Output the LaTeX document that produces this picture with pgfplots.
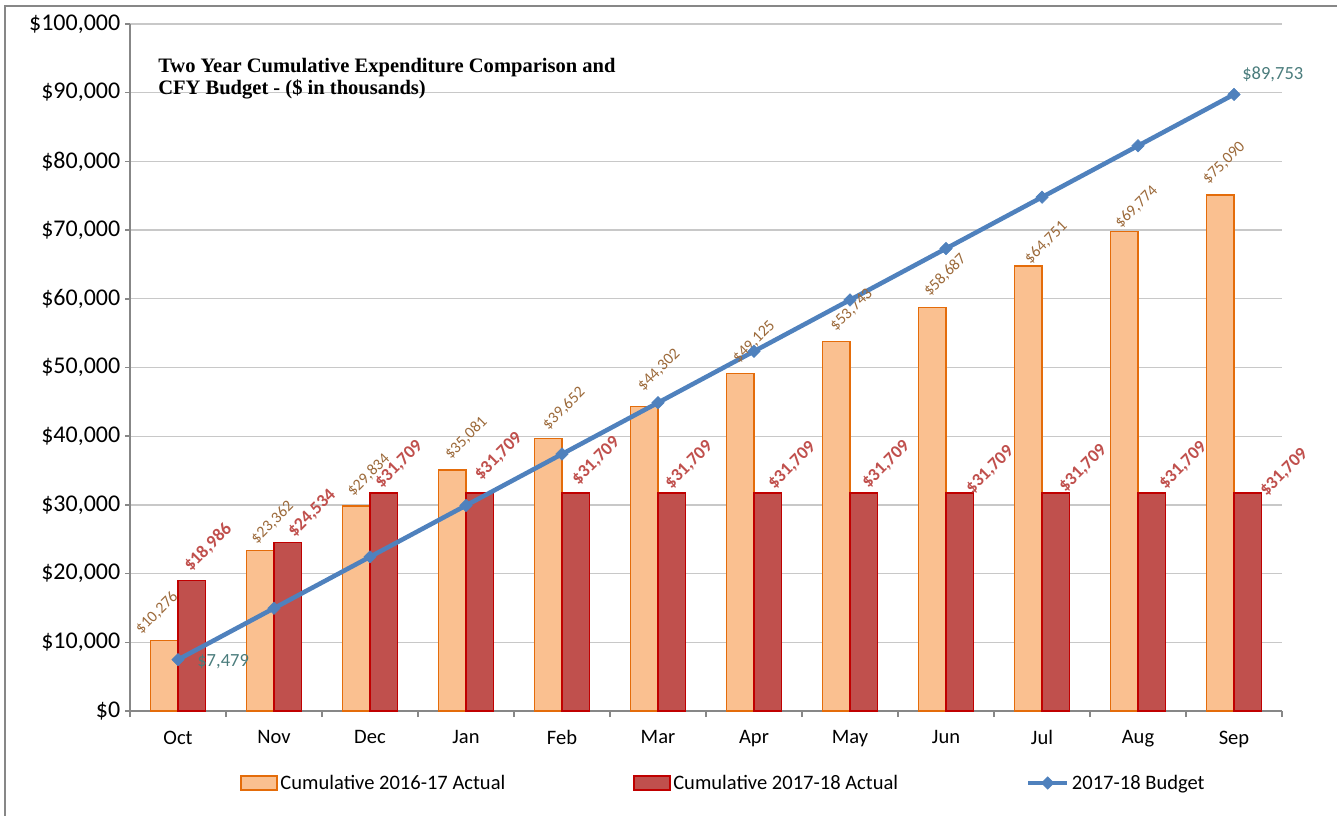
\documentclass[border=0pt]{standalone}
\usepackage{pgfplots}
\pgfplotsset{compat=1.18}
\usepackage{pgfplotstable}
\usepackage{fontspec}
\setmainfont{Carlito}
\newfontfamily\titlefont{Liberation Serif}

\definecolor{orangefill}{HTML}{FAC090}
\definecolor{orangeedge}{HTML}{E46C0A}
\definecolor{redfill}{HTML}{C0504D}
\definecolor{rededge}{HTML}{C00000}
\definecolor{budgetc}{HTML}{4F81BD}
\definecolor{olab}{HTML}{9C6A3B}
\definecolor{rlab}{HTML}{C0504D}
\definecolor{blab}{HTML}{4A7C7C}
\definecolor{gridc}{HTML}{C8C8C8}
\definecolor{axisc}{HTML}{878787}

\pgfplotsset{
  barlegend/.style={legend image code/.code={\draw[##1] (0pt,-5.25pt) rectangle (27pt,5.25pt);}},
  linelegend/.style={legend image code/.code={\draw[mark repeat=2,mark phase=2,##1] plot coordinates {(0pt,0pt) (14.5pt,0pt) (29pt,0pt)};}},
}

\pgfplotstableread{
x y dx dy lab
0 10276 -7.25 27.4 10,276
1 23362 12.25 28 23,362
2 29834 12.25 31 29,834
3 35081 13.75 32 35,081
4 39652 15.75 30.1 39,652
5 44302 14.75 36.6 44,302
6 49125 13.75 31.5 49,125
7 53743 15.25 31.8 53,743
8 58687 12.75 32.8 58,687
9 64751 17.75 23.7 64,751
10 69774 12.25 24.7 69,774
11 75090 3.75 32.1 75,090
}\prevyear

\pgfplotstableread{
x y dx dy lab
0 18986 16.25 33.1 18,986
1 24534 24.25 29 24,534
2 31709 15.25 28.7 31,709
3 31709 18.75 36.7 31,709
4 31709 20.25 32.2 31,709
5 31709 17.25 28.2 31,709
6 31709 24.25 27.7 31,709
7 31709 22.25 28.7 31,709
8 31709 30.25 23.2 31,709
9 31709 27.25 24.7 31,709
10 31709 31.25 27.7 31,709
11 31709 36.25 20.7 31,709
}\curyear

\pgfplotstableread{
x y
0 7479
1 14959
2 22438
3 29918
4 37397
5 44877
6 52356
7 59835
8 67315
9 74794
10 82274
11 89753
}\budget

\begin{document}
\begin{tikzpicture}
\useasboundingbox (0,0) rectangle (1002.75pt,611.25pt);
\draw[axisc, line width=1.5pt] (3.75pt,-5pt) -- (3.75pt,606.75pt) -- (1010pt,606.75pt);
\begin{axis}[
  at={(97.5pt,78pt)}, anchor=south west,
  scale only axis, width=864pt, height=515.25pt,
  xmin=-0.5, xmax=11.5, ymin=0, ymax=100000,
  axis x line*=bottom, axis y line*=left,
  x axis line style={axisc, line width=1.5pt, -},
  y axis line style={axisc, line width=1.1pt, -},
  xtick={0,...,11},
  xticklabels={Oct,Nov,Dec,Jan,Feb,Mar,Apr,May,Jun,Jul,Aug,Sep},
  minor xtick={-0.5,0.5,...,11.5},
  ytick={0,10000,...,100000},
  yticklabels={{\$0},{\$10,000},{\$20,000},{\$30,000},{\$40,000},{\$50,000},{\$60,000},{\$70,000},{\$80,000},{\$90,000},{\$100,000}},
  scaled y ticks=false,
  tick align=outside,
  major tick length=3.75pt, minor tick length=4.5pt,
  major x tick style={draw=none},
  minor x tick style={axisc, line width=1.1pt},
  major y tick style={axisc, line width=1.1pt},
  ymajorgrids, grid style={gridc, line width=1pt},
  xticklabel style={font=\fontsize{15.4}{18}\selectfont, text=black, yshift=-7.5pt},
  yticklabel style={font=\fontsize{18}{21}\selectfont, text=black},
  clip=false,
  legend columns=3,
  legend style={at={(axis description cs:0.5155,-0.1048)}, anchor=center,
    draw=none, fill=none, font=\fontsize{15.4}{18}\selectfont,
    /tikz/every even column/.append style={column sep=94pt}},
]
\addplot[ybar, bar width=20.8pt, bar shift=-10.4pt,
  fill=orangefill, draw=orangeedge, line width=1pt, barlegend,
  point meta=explicit symbolic,
  nodes near coords={\$\pgfplotspointmeta},
  visualization depends on={\thisrow{dx} \as \dx},
  visualization depends on={\thisrow{dy} \as \dy},
  every node near coord/.append style={xshift={(\dx-13.75)*0.75pt}, yshift={\dy*0.75pt}, rotate=45, anchor=center, inner sep=0pt, font=\fontsize{12}{14}\selectfont, text=olab},
] table[x=x, y=y, meta=lab]{\prevyear};
\addlegendentry{Cumulative 2016-17 Actual}

\addplot[ybar, bar width=20.8pt, bar shift=10.4pt,
  fill=redfill, draw=rededge, line width=1pt, barlegend,
  point meta=explicit symbolic,
  nodes near coords={\$\pgfplotspointmeta},
  visualization depends on={\thisrow{dx} \as \dx},
  visualization depends on={\thisrow{dy} \as \dy},
  every node near coord/.append style={xshift={(\dx+13.75)*0.75pt}, yshift={\dy*0.75pt}, rotate=45, anchor=center, inner sep=0pt, font=\bfseries\fontsize{13.5}{15}\selectfont, text=rlab},
] table[x=x, y=y, meta=lab]{\curyear};
\addlegendentry{Cumulative 2017-18 Actual}

\addplot[sharp plot, color=budgetc, line width=3.4pt,
  mark=square*, mark size=3.3pt, mark options={rotate=45, solid, line width=0.4pt, fill=budgetc},
  linelegend,
] table[x=x, y=y]{\budget};
\addlegendentry{2017-18 Budget}

\addplot[forget plot, draw=none, mark=none,
  nodes near coords={\$7,479},
  every node near coord/.append style={anchor=base west, inner sep=0pt, xshift=14.3pt, yshift=-5.5pt, font=\fontsize{13.9}{16}\selectfont, text=blab},
] coordinates {(0,7479)};
\addplot[forget plot, draw=none, mark=none,
  nodes near coords={\$89,753},
  every node near coord/.append style={anchor=base west, inner sep=0pt, xshift=6pt, yshift=11.5pt, font=\fontsize{13.9}{16}\selectfont, text=blab},
] coordinates {(11,89753)};
\end{axis}
\node[anchor=base west, inner sep=0pt, font=\titlefont\bfseries\fontsize{15.4}{18}\selectfont] at (118.5pt,556.5pt) {Two Year Cumulative Expenditure Comparison and};
\node[anchor=base west, inner sep=0pt, font=\titlefont\bfseries\fontsize{15.4}{18}\selectfont] at (118.5pt,540pt) {CFY Budget - (\$ in thousands)};
\end{tikzpicture}
\end{document}
